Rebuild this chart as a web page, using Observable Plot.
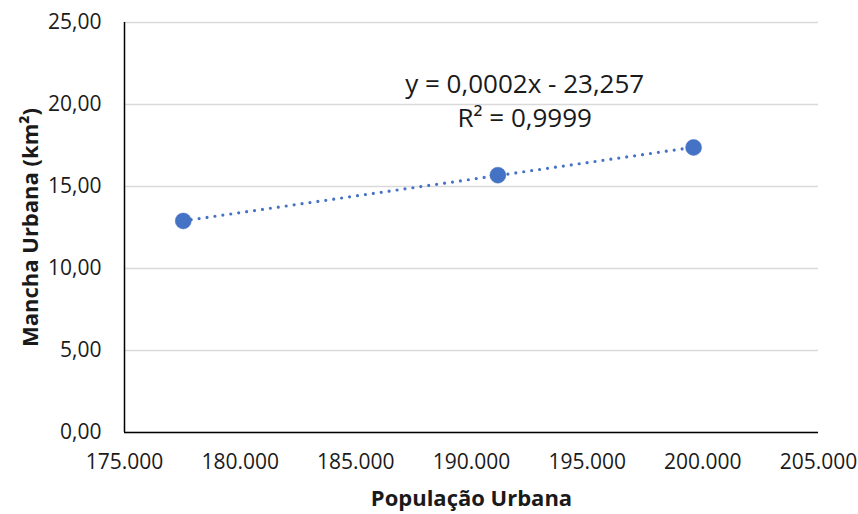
<!DOCTYPE html>
<html>
<head>
<meta charset="utf-8">
<script src="https://cdn.jsdelivr.net/npm/d3@7"></script>
<script src="https://cdn.jsdelivr.net/npm/@observablehq/plot@0.6"></script>
<style>
  html, body { margin: 0; padding: 0; background: #fff; }
  g[aria-label="x-axis label"] text, g[aria-label="y-axis label"] text { font-weight: bold; font-size: 22px; }
</style>
</head>
<body>
<div id="chart"></div>
<script>
const populacaoUrbana = [177540, 191140, 199600];
const manchaUrbana = [12.90, 15.69, 17.38];
const xTicks = [175000, 180000, 185000, 190000, 195000, 200000, 205000];
const yTicks = [0, 5, 10, 15, 20, 25];
const equationLines = ["y = 0,0002x - 23,257", "R² = 0,9999"];

const data = populacaoUrbana.map((x, i) => ({x, y: manchaUrbana[i]}));
const blue = "#4472C4";
const fmtY = d => d.toFixed(2).replace(".", ",");
const fmtX = d => d3.format(",")(d).replace(/,/g, ".");

const chart = Plot.plot({
  width: 858,
  height: 514,
  marginLeft: 124,
  marginRight: 40,
  marginTop: 22,
  marginBottom: 82,
  style: {fontFamily: "'Open Sans', sans-serif", fontSize: "21px", color: "#1a1a1a", background: "#fff"},
  x: {domain: [175000, 205000]},
  y: {domain: [0, 25]},
  marks: [
    Plot.gridY(yTicks, {stroke: "#d9d9d9", strokeOpacity: 1, strokeWidth: 1.3}),
    Plot.axisY(yTicks, {tickSize: 0, tickPadding: 23, tickFormat: fmtY, label: "Mancha Urbana (km²)", labelAnchor: "center", labelArrow: "none", labelOffset: 102, fontSize: 21}),
    Plot.axisX(xTicks, {tickSize: 0, tickPadding: 22, tickFormat: fmtX, label: "População Urbana", labelAnchor: "center", labelArrow: "none", labelOffset: 73, fontSize: 21}),
    Plot.ruleX([175000], {stroke: "#000", strokeWidth: 1.5}),
    Plot.ruleY([0], {stroke: "#000", strokeWidth: 1.5}),
    Plot.linearRegressionY(data, {x: "x", y: "y", ci: 0, stroke: blue, strokeWidth: 3.2, strokeDasharray: "0 8", strokeLinecap: "round"}),
    Plot.dot(data, {x: "x", y: "y", r: 8, fill: blue, stroke: blue, strokeWidth: 0.5}),
    Plot.text([equationLines.join("\n")], {x: 192300, y: 21.2, text: d => d, fontSize: 26, lineAnchor: "top", dy: -16, lineHeight: 1.3, fill: "#1a1a1a"})
  ]
});
document.getElementById("chart").appendChild(chart);
</script>
</body>
</html>
